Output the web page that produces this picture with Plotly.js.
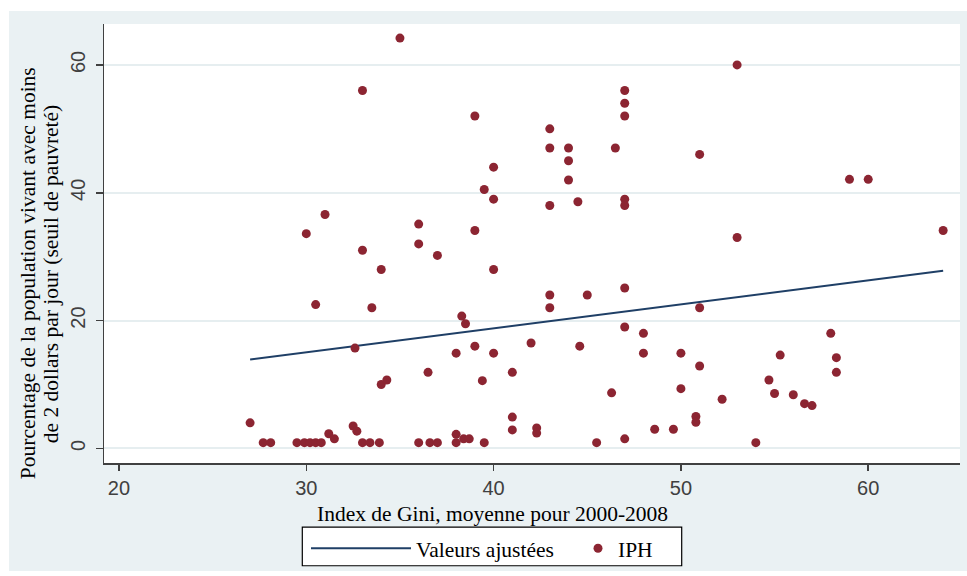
<!DOCTYPE html>
<html>
<head>
<meta charset="utf-8">
<script src="https://cdn.plot.ly/plotly-3.0.1.min.js"></script>
<style>html,body{margin:0;padding:0;background:#fff;}#chart{width:967px;height:576px;}</style>
</head>
<body>
<div id="chart"></div>
<script>
// Index de Gini (moyenne 2000-2008)
var giniX = [35, 33, 39, 39.5, 31, 30, 36, 36, 39, 33, 37,
  53, 47, 47, 47, 43, 43, 44, 44, 46.5, 51, 40, 44, 40, 43, 44.5, 47, 47, 53,
  59, 60, 64,
  34, 40, 30.5, 33.5, 38.3, 38.5, 32.6, 38, 39, 40, 36.5, 34, 34.3, 39.4,
  27, 27.7, 28.1, 29.5, 29.9, 30.2, 30.5, 30.8, 31.2, 31.5, 32.5, 32.7,
  33, 33.4, 33.9, 36, 36.6, 37, 38, 38, 38.4, 38.7, 39.5,
  43, 43, 45, 47, 51, 47, 48, 42, 44.6, 48, 50, 51, 41, 46.3, 50, 52.2,
  41, 41, 42.3, 42.3, 48.6, 49.6, 50.8, 50.8, 45.5, 47,
  58, 55.3, 58.3, 58.3, 54.7, 55, 56, 56.6, 57, 54];
// IPH : % population < 2 dollars par jour
var iphY = [64.2, 56, 52, 40.5, 36.6, 33.6, 35.1, 32, 34.1, 31, 30.2,
  60, 56, 54, 52, 50, 47, 47, 45, 47, 46, 44, 42, 39, 38, 38.6, 39, 38, 33,
  42.1, 42.1, 34.1,
  28, 28, 22.5, 22, 20.7, 19.5, 15.7, 14.9, 16, 14.9, 11.9, 10, 10.7, 10.6,
  4, 0.9, 0.9, 0.9, 0.9, 0.9, 0.9, 0.9, 2.3, 1.5, 3.5, 2.7,
  0.9, 0.9, 0.9, 0.9, 0.9, 0.9, 2.2, 0.9, 1.5, 1.5, 0.9,
  24, 22, 24, 25.1, 22, 19, 18, 16.5, 16, 14.9, 14.9, 12.9, 11.9, 8.7, 9.35, 7.7,
  4.9, 2.9, 3.2, 2.4, 3, 3, 5, 4.1, 0.9, 1.5,
  18, 14.6, 14.2, 11.9, 10.7, 8.6, 8.4, 7.0, 6.7, 0.9];
// Valeurs ajustées (droite de régression)
var fitX = [27, 64];
var fitY = [13.9, 27.8];
var xTicks = [20, 30, 40, 50, 60];
var yTicks = [0, 20, 40, 60];
var yTitleLines = ['Pourcentage de la population vivant avec moins',
                   'de 2 dollars par jour (seuil de pauvreté)'];
var xTitle = 'Index de Gini, moyenne pour 2000-2008';

var serif = '"Liberation Serif", "Times New Roman", serif';
var sans = '"Liberation Sans", Arial, sans-serif';
var serifSize = 21.5;

var traces = [
  {x: fitX, y: fitY, type: 'scatter', mode: 'lines', name: 'Valeurs ajustées',
   line: {color: '#1f3f66', width: 2}, legend: 'legend'},
  {x: giniX, y: iphY, type: 'scatter', mode: 'markers', name: 'IPH',
   marker: {color: '#8c2532', size: 9}, legend: 'legend2'}
];

var legendY = (467 - 553) / 443;
var px = function (p) { return (p - 104) / 856; };
var py = function (p) { return (467 - p) / 443; };

var layout = {
  width: 967, height: 576,
  margin: {l: 104, r: 7, t: 24, b: 109, pad: 0},
  paper_bgcolor: '#ffffff',
  plot_bgcolor: 'rgba(0,0,0,0)',
  showlegend: true,
  xaxis: {
    range: [19.2, 64.9], tickvals: xTicks, ticktext: xTicks.map(String),
    showgrid: false, zeroline: false, showline: true, linecolor: '#404040', linewidth: 1.5,
    ticks: 'outside', ticklen: 6, tickcolor: '#404040', tickwidth: 1.5,
    tickfont: {family: sans, size: 20, color: '#404040'}
  },
  yaxis: {
    range: [-2.28, 66.4], tickvals: yTicks, ticktext: yTicks.map(String),
    showgrid: true, gridcolor: '#e6eef0', gridwidth: 2, zeroline: false,
    showline: true, linecolor: '#404040', linewidth: 1.5,
    ticks: 'outside', ticklen: 7, tickcolor: '#404040', tickwidth: 1.5,
    tickangle: -90, ticklabelstandoff: 3,
    tickfont: {family: sans, size: 20, color: '#404040'}
  },
  legend: {
    orientation: 'h', x: px(306), xanchor: 'left', y: legendY, yanchor: 'middle',
    bgcolor: 'rgba(0,0,0,0)', borderwidth: 0,
    font: {family: serif, size: serifSize, color: '#000'},
    itemwidth: 100
  },
  legend2: {
    orientation: 'h', x: px(578), xanchor: 'left', y: legendY, yanchor: 'middle',
    bgcolor: 'rgba(0,0,0,0)', borderwidth: 0,
    font: {family: serif, size: serifSize, color: '#000'}
  },
  shapes: [
    {type: 'rect', xref: 'paper', yref: 'paper', x0: px(9), x1: px(967), y0: py(576), y1: py(11),
     fillcolor: '#eaf1f3', line: {width: 0}, layer: 'below'},
    {type: 'rect', xref: 'paper', yref: 'paper', x0: 0, x1: 1, y0: 0, y1: 1,
     fillcolor: '#ffffff', line: {width: 0}, layer: 'below'},
    {type: 'rect', xref: 'paper', yref: 'paper', x0: px(302.3), x1: px(681.7), y0: py(570.7), y1: py(531.7),
     fillcolor: '#ffffff', line: {color: '#000000', width: 1.2}, layer: 'below'}
  ],
  annotations: [
    {text: xTitle, xref: 'paper', yref: 'paper',
     x: px(492), y: py(518), xanchor: 'center', yanchor: 'middle', showarrow: false,
     font: {family: serif, size: serifSize, color: '#000'}},
    {text: yTitleLines[0], xref: 'paper', yref: 'paper', x: px(27.5), y: py(276),
     xanchor: 'center', yanchor: 'middle', textangle: -90, showarrow: false,
     font: {family: serif, size: serifSize, color: '#000'}},
    {text: yTitleLines[1], xref: 'paper', yref: 'paper', x: px(50.5), y: py(276),
     xanchor: 'center', yanchor: 'middle', textangle: -90, showarrow: false,
     font: {family: serif, size: serifSize, color: '#000'}}
  ]
};

Plotly.newPlot('chart', traces, layout, {displayModeBar: false, staticPlot: true});
</script>
</body>
</html>
